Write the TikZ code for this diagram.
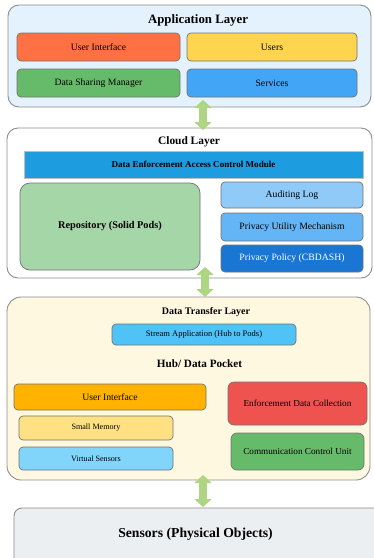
\documentclass[tikz,border=0pt]{standalone}
\usepackage{fontspec}
\setmainfont{Liberation Serif}
\usepackage{tikz}
\usetikzlibrary{arrows.meta,positioning,calc}

\definecolor{appbg}{HTML}{E3F2FD}
\definecolor{transferbg}{HTML}{FFF8E1}
\definecolor{sensorbg}{HTML}{ECEFF1}
\definecolor{uiorange}{HTML}{FF7043}
\definecolor{useryellow}{HTML}{FFD54F}
\definecolor{sharegreen}{HTML}{66BB6A}
\definecolor{serviceblue}{HTML}{42A5F5}
\definecolor{moduleblue}{HTML}{1E9CE0}
\definecolor{repogreen}{HTML}{A5D6A7}
\definecolor{auditblue}{HTML}{90CAF9}
\definecolor{utilblue}{HTML}{64B5F6}
\definecolor{policyblue}{HTML}{1976D2}
\definecolor{streamblue}{HTML}{4FC3F7}
\definecolor{hubamber}{HTML}{FFB300}
\definecolor{memyellow}{HTML}{FFE082}
\definecolor{vsblue}{HTML}{81D4FA}
\definecolor{edcred}{HTML}{EF5350}
\definecolor{linkgreen}{HTML}{AED581}

\newcommand{\fsz}[1]{\fontsize{#1}{#1}\selectfont}

\begin{document}
\begin{tikzpicture}[x=1pt, y=-1pt,
  layer/.style={draw=black!45, line width=0.9pt, rounded corners=11pt, outer sep=0pt, inner sep=0pt},
  box/.style={draw=black!55, line width=0.7pt, rounded corners=4pt, outer sep=0pt, inner sep=0pt,
    font=\fsz{9.7}},
  title/.style={font=\fsz{11.4}\bfseries},
  link/.style={line width=8pt, linkgreen, {Triangle[width=17pt,length=8pt]}-{Triangle[width=17pt,length=8pt]}}]
\useasboundingbox (0,0) rectangle (373,558);

% application layer
\node[layer, fill=appbg, minimum width=363, minimum height=102] (app) at (189.5,56) {};
\node[title, font=\fsz{12.8}\bfseries] (apptitle) at (198,20) {Application Layer};
\node[box, fill=uiorange, minimum width=163, minimum height=28] (ui) at (98.5,47) {User Interface};
\node[box, fill=useryellow, minimum width=170, minimum height=28] (users) at (272,47) {Users};
\node[box, fill=sharegreen, minimum width=163, minimum height=28] (dsm) at (98.5,83) {Data Sharing Manager};
\node[box, fill=serviceblue, minimum width=170, minimum height=28] (services) at (272,83) {Services};

% cloud layer
\node[layer, fill=white, minimum width=365, minimum height=150] (cloud) at (189.5,203) {};
\node[title] (cloudtitle) at (189,142) {Cloud Layer};
\node[box, rounded corners=0pt, draw=black!25, fill=moduleblue, minimum width=339, minimum height=27,
  font=\fsz{9.1}\bfseries] (deacm) at (193.5,164.5) {Data Enforcement Access Control Module};
\node[box, rounded corners=10pt, fill=repogreen, minimum width=180, minimum height=87,
  font=\fsz{10.3}\bfseries] (repo) at (110,226.5) {Repository (Solid Pods)};
\node[box, fill=auditblue, minimum width=142, minimum height=26] (audit) at (292,195) {Auditing Log};
\node[box, fill=utilblue, minimum width=142, minimum height=28] (pum) at (292,227) {Privacy Utility Mechanism};
\node[box, fill=policyblue, text=white, minimum width=142, minimum height=27] (policy) at (292,258.5) {Privacy Policy (CBDASH)};

% data transfer layer and hub
\node[layer, rounded corners=14pt, fill=transferbg, minimum width=363, minimum height=183] (transfer) at (188.5,388.5) {};
\node[title, font=\fsz{10}\bfseries] (transfertitle) at (206,312) {Data Transfer Layer};
\node[box, fill=streamblue, minimum width=184, minimum height=21, font=\fsz{8.5}] (stream) at (204,334.5) {Stream Application (Hub to Pods)};
\node[title, font=\fsz{11.2}\bfseries] (hubtitle) at (199.5,364) {Hub/ Data Pocket};
\node[box, fill=hubamber, minimum width=192, minimum height=26] (hubui) at (110,397) {User Interface};
\node[box, fill=memyellow, minimum width=154, minimum height=24, font=\fsz{8.1}] (memory) at (96,428) {Small Memory};
\node[box, fill=vsblue, minimum width=154, minimum height=23, font=\fsz{8.1}] (vsensors) at (96,458.5) {Virtual Sensors};
\node[box, rounded corners=6pt, fill=edcred, minimum width=139, minimum height=43, font=\fsz{9.2}] (edc) at (297.5,403.5) {Enforcement Data Collection};
\node[box, rounded corners=6pt, fill=sharegreen, minimum width=133, minimum height=37, font=\fsz{9.2}] (ccu) at (297.5,451.5) {Communication Control Unit};

% physical sensors
\node[layer, rounded corners=8pt, fill=sensorbg, minimum width=371, minimum height=67] (sensors) at (199.5,541.5) {};
\node[title, font=\fsz{13.7}\bfseries] (sensortitle) at (195.5,534) {Sensors (Physical Objects)};

% links between the layers
\coordinate (l1a) at (203,100);
\coordinate (l1b) at (203,130);
\coordinate (l2a) at (205,267);
\coordinate (l2b) at (205,297);
\coordinate (l3a) at (203,475);
\coordinate (l3b) at (203,507);
\draw[link] (l1a) -- (l1b);
\draw[link] (l2a) -- (l2b);
\draw[link] (l3a) -- (l3b);
\end{tikzpicture}
\end{document}
